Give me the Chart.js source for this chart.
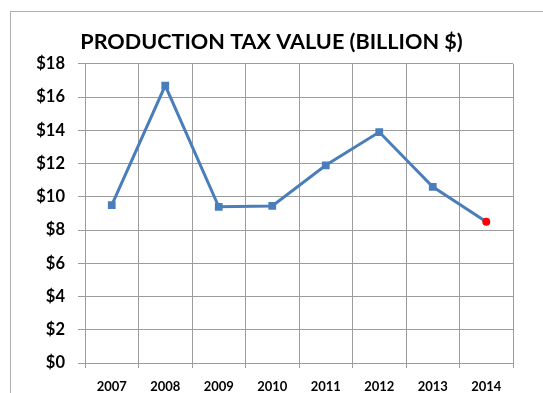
<!DOCTYPE html>
<html>
<head>
<meta charset="utf-8">
<script src="https://cdn.jsdelivr.net/npm/chart.js@4/dist/chart.umd.min.js"></script>
<style>
  html, body { margin: 0; padding: 0; background: #fff; }
  #wrap { position: relative; width: 543px; height: 393px; overflow: hidden; }
  #frame { position: absolute; left: 10px; top: 11px; width: 600px; height: 500px; border: 1px solid #b0b0b0; box-sizing: border-box; }
  canvas { position: absolute; left: 0; top: 0; }
</style>
</head>
<body>
<div id="wrap">
  <div id="frame"></div>
  <canvas id="taxChart" width="543" height="393"></canvas>
</div>
<script>
// ---------- DATA ----------
const years = ["2007", "2008", "2009", "2010", "2011", "2012", "2013", "2014"];
const taxValue = [9.5, 16.7, 9.4, 9.45, 11.9, 13.9, 10.6, 8.5];
const yTicks = [0, 2, 4, 6, 8, 10, 12, 14, 16, 18];

const lineBlue = "#4a7ebb";
const gridGray = "#9c9c9c";
const font = "Lato, 'Open Sans', sans-serif";

// last year is flagged in red as a circle
const last = taxValue.length - 1;
const pointColors = taxValue.map((_, i) => i === last ? "#ff0000" : lineBlue);
const pointShapes = taxValue.map((_, i) => i === last ? "circle" : "rect");
const pointSizes = taxValue.map((_, i) => i === last ? 4 : 5.5);

// ---------- CHART ----------
const ctx = document.getElementById("taxChart").getContext("2d");
new Chart(ctx, {
  type: "line",
  data: {
    labels: years,
    datasets: [{
      data: taxValue,
      borderColor: lineBlue,
      borderWidth: 3,
      tension: 0,
      pointStyle: pointShapes,
      pointRadius: pointSizes,
      pointBackgroundColor: pointColors,
      pointBorderColor: pointColors,
      pointBorderWidth: 0
    }]
  },
  options: {
    responsive: false,
    animation: false,
    layout: { padding: { left: 30, right: 30, top: 0, bottom: 0 } },
    plugins: {
      legend: { display: false },
      tooltip: { enabled: false },
      title: {
        display: true,
        text: "PRODUCTION TAX VALUE (BILLION $)",
        color: "#000",
        font: { family: font, size: 21.6, weight: "bold" },
        padding: { top: 29, bottom: 9 }
      }
    },
    scales: {
      x: {
        offset: true,
        afterFit: (axis) => { axis.height = 30; },
        grid: { offset: true, color: gridGray, lineWidth: 1, tickLength: 5 },
        border: { color: gridGray },
        ticks: { color: "#000", padding: 11, font: { family: font, size: 13, weight: "bold" } }
      },
      y: {
        min: 0,
        max: 18,
        afterBuildTicks: (axis) => { axis.ticks = yTicks.map(v => ({ value: v })); },
        afterFit: (axis) => { axis.width = 55; },
        grid: { color: gridGray, lineWidth: 1, tickLength: 7 },
        border: { color: gridGray },
        ticks: {
          color: "#000",
          padding: 13,
          font: { family: font, size: 16.5, weight: "bold" },
          callback: (v) => "$" + v
        }
      }
    }
  }
});
</script>
</body>
</html>
